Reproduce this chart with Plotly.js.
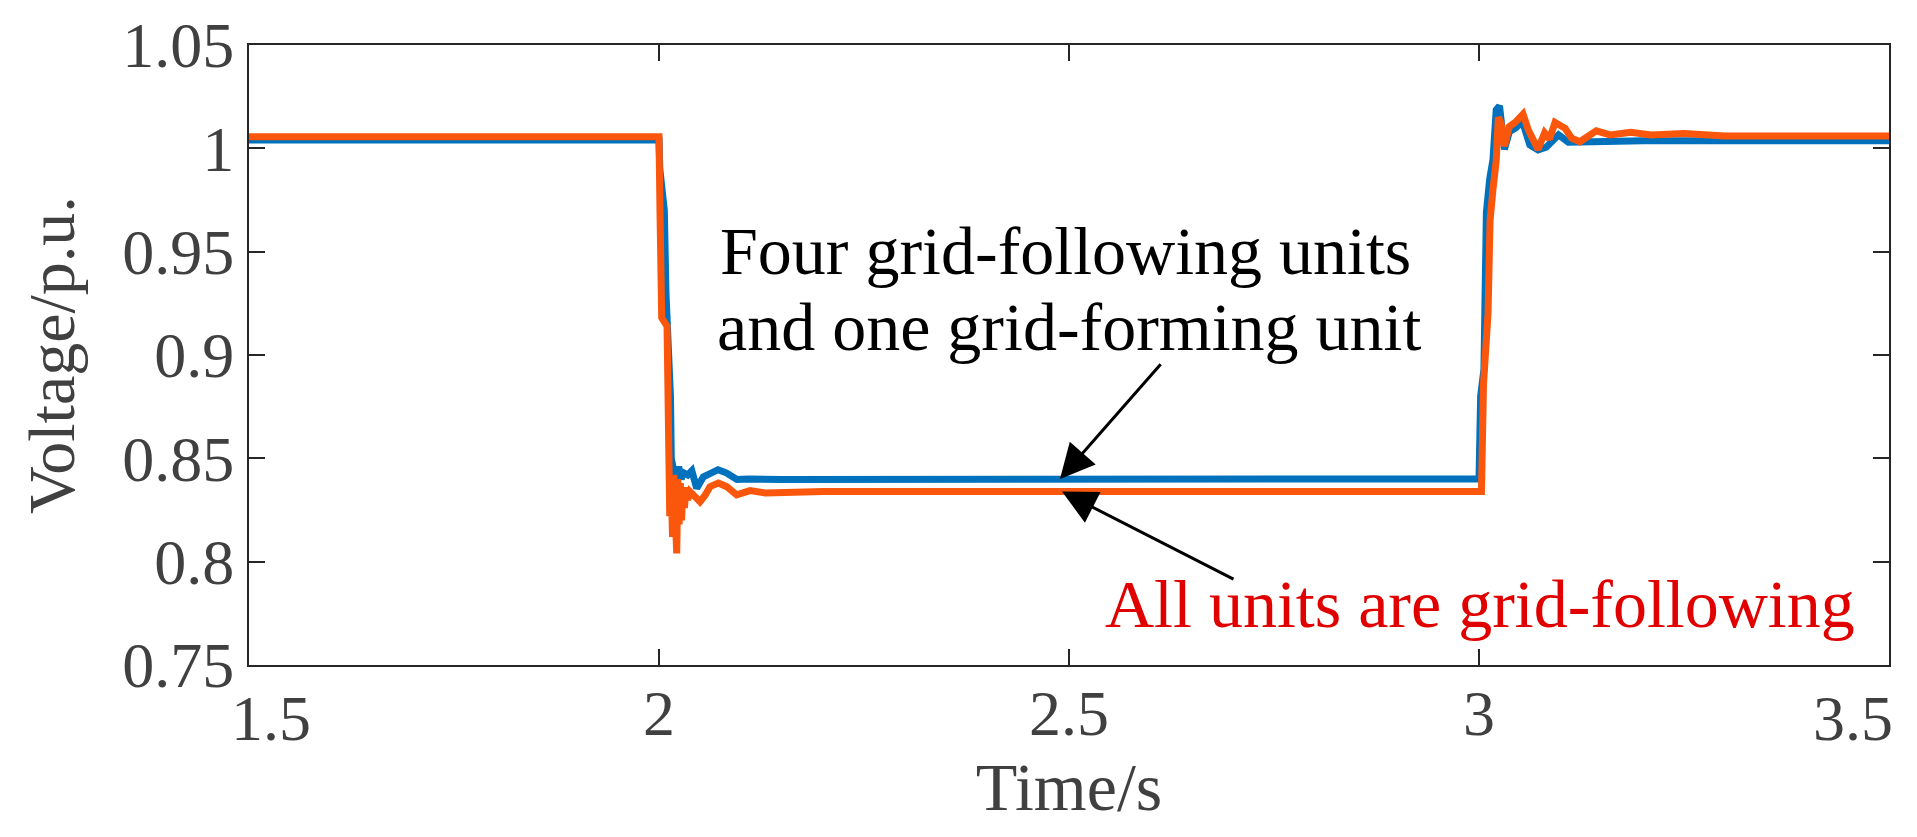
<!DOCTYPE html>
<html>
<head>
<meta charset="utf-8">
<script src="https://cdn.plot.ly/plotly-3.0.1.min.js"></script>
<style>html,body{margin:0;padding:0;background:#fff;}#chart{width:1917px;height:837px;}</style>
</head>
<body>
<div id="chart"></div>
<script>
// Series 1: four grid-following units and one grid-forming unit (blue)
const t_mix = [1.5, 2.0, 2.001, 2.0065, 2.0085, 2.011, 2.014, 2.015, 2.0165, 2.018, 2.021, 2.024, 2.027, 2.030, 2.035, 2.040, 2.046, 2.054, 2.0625, 2.072, 2.082, 2.095, 2.110, 2.150, 3.000,
  3.0005, 3.002, 3.006, 3.0075, 3.009, 3.013, 3.017, 3.021, 3.025, 3.031, 3.037, 3.045, 3.053, 3.062, 3.072, 3.082, 3.097, 3.109, 3.140, 3.200, 3.500];
const v_mix = [1.0040, 1.0040, 0.990, 0.970, 0.930, 0.912, 0.880, 0.850, 0.846, 0.8475, 0.838, 0.846, 0.840, 0.843, 0.842, 0.844, 0.8355, 0.841, 0.843, 0.8445, 0.8430, 0.8398, 0.8400, 0.8398, 0.8400,
  0.849, 0.880, 0.893, 0.920, 0.969, 0.985, 0.9944, 1.0186, 1.0205, 0.9995, 1.0080, 1.0100, 1.0130, 1.0016, 0.9992, 1.0005, 1.0065, 1.0030, 1.0032, 1.0037, 1.0037];

// Series 2: all units are grid-following (orange)
const t_gfl = [1.5, 2.0, 2.0012, 2.0033, 2.0098, 2.0114, 2.0131, 2.015, 2.0165, 2.018, 2.0195, 2.0216, 2.023, 2.0245, 2.026, 2.0275, 2.029, 2.031, 2.033, 2.035, 2.0378, 2.043, 2.050, 2.056, 2.0622, 2.0723, 2.0825, 2.0947, 2.111, 2.130, 2.160, 2.200, 3.003,
  3.004, 3.0055, 3.011, 3.0135, 3.017, 3.021, 3.0235, 3.027, 3.031, 3.037, 3.045, 3.0537, 3.060, 3.066, 3.072, 3.080, 3.086, 3.0927, 3.105, 3.113, 3.123, 3.143, 3.160, 3.185, 3.210, 3.250, 3.300, 3.500];
const v_gfl = [1.0056, 1.0056, 0.970, 0.918, 0.914, 0.854, 0.822, 0.835, 0.812, 0.842, 0.810, 0.804, 0.840, 0.818, 0.838, 0.820, 0.836, 0.826, 0.836, 0.830, 0.8339, 0.832, 0.829, 0.832, 0.8363, 0.838, 0.8363, 0.8323, 0.8344, 0.8332, 0.8338, 0.8339, 0.8339,
  0.880, 0.886, 0.920, 0.965, 0.980, 0.994, 1.015, 1.012, 1.001, 1.0105, 1.0129, 1.0165, 1.009, 1.005, 0.9995, 1.0075, 1.0045, 1.0125, 1.0097, 1.0049, 1.0032, 1.0085, 1.0065, 1.0078, 1.0065, 1.0072, 1.0060, 1.0060];

const x_ticks = [1.5, 2, 2.5, 3, 3.5];
const x_ticktext = ['1.5', '2', '2.5', '3', '3.5'];
const y_ticks = [0.75, 0.8, 0.85, 0.9, 0.95, 1, 1.05];
const y_ticktext = ['0.75', '0.8', '0.85', '0.9', '0.95', '1', '1.05'];

const label_mix = ['Four grid-following units', 'and one grid-forming unit'];
const label_gfl = 'All units are grid-following';

const FONT = 'Liberation Serif, Times New Roman, serif';
const AX = '#262626';
const TICKFONT = {family: FONT, size: 64, color: '#404040'};

// interior x tick labels drawn by the axis; the two end labels sit inside the frame
// (as in the original figure), so they are drawn as labels anchored at their tick values
const last = x_ticks.length - 1;
const x_ticktext_axis = x_ticktext.map((s, i) => (i === 0 || i === last) ? '' : s);

const traces = [
  {x: t_mix, y: v_mix, type: 'scatter', mode: 'lines', name: label_mix.join(' '),
   line: {color: '#0072BD', width: 7}},
  {x: t_gfl, y: v_gfl, type: 'scatter', mode: 'lines', name: label_gfl,
   line: {color: '#FA560C', width: 7}}
];

const axisCommon = {
  showgrid: false, zeroline: false, showline: true, linecolor: AX, linewidth: 2,
  mirror: 'ticks', ticks: 'inside', ticklen: 16, tickwidth: 2, tickcolor: AX,
  tickfont: TICKFONT
};

const layout = {
  width: 1917, height: 837,
  margin: {l: 249, r: 28, t: 45, b: 172},
  paper_bgcolor: '#ffffff', plot_bgcolor: '#ffffff',
  showlegend: false,
  xaxis: Object.assign({}, axisCommon, {
    range: [1.5, 3.5], tickvals: x_ticks, ticktext: x_ticktext_axis,
    ticklabelstandoff: -9,
    title: {text: 'Time/s', font: {family: FONT, size: 68, color: '#404040'}, standoff: 0}
  }),
  yaxis: Object.assign({}, axisCommon, {
    range: [0.75, 1.05], tickvals: y_ticks, ticktext: y_ticktext,
    title: {text: 'Voltage/p.u.', font: {family: FONT, size: 66, color: '#404040'}, standoff: 26}
  }),
  annotations: [
    {x: x_ticks[0], y: 0, xref: 'x', yref: 'paper', text: x_ticktext[0], showarrow: false,
     font: TICKFONT, xanchor: 'center', yanchor: 'top', xshift: 22, yshift: -16},
    {x: x_ticks[last], y: 0, xref: 'x', yref: 'paper', text: x_ticktext[last], showarrow: false,
     font: TICKFONT, xanchor: 'center', yanchor: 'top', xshift: -36, yshift: -16},
    {x: 2.4963, y: 0.9505, xref: 'x', yref: 'y', text: label_mix[0], showarrow: false,
     font: {family: FONT, size: 68, color: '#000000'}, xanchor: 'center', yanchor: 'middle'},
    {x: 2.501, y: 0.9137, xref: 'x', yref: 'y', text: label_mix[1], showarrow: false,
     font: {family: FONT, size: 68, color: '#000000'}, xanchor: 'center', yanchor: 'middle'},
    {x: 3.0012, y: 0.7795, xref: 'x', yref: 'y', text: label_gfl, showarrow: false,
     font: {family: FONT, size: 68, color: '#E00000'}, xanchor: 'center', yanchor: 'middle'},
    {x: 2.489, y: 0.8400, xref: 'x', yref: 'y', axref: 'x', ayref: 'y', ax: 2.6134, ay: 0.8962,
     text: '', showarrow: true, arrowhead: 2, arrowsize: 2.3, arrowwidth: 3, arrowcolor: '#000000', standoff: 0, startstandoff: 0},
    {x: 2.4915, y: 0.8339, xref: 'x', yref: 'y', axref: 'x', ayref: 'y', ax: 2.7024, ay: 0.7912,
     text: '', showarrow: true, arrowhead: 2, arrowsize: 2.3, arrowwidth: 3, arrowcolor: '#000000', standoff: 0, startstandoff: 0}
  ]
};

Plotly.newPlot('chart', traces, layout, {displayModeBar: false, staticPlot: true});
</script>
</body>
</html>
